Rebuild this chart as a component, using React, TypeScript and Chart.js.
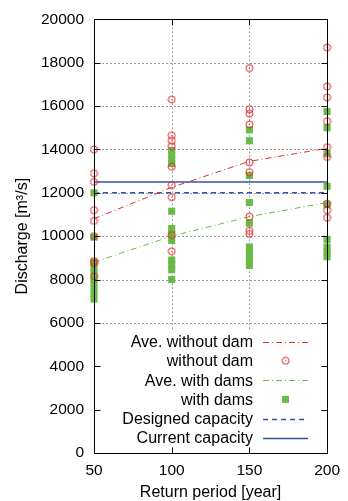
import React, { useEffect, useRef } from 'react';
import { Chart, registerables } from 'chart.js';

Chart.register(...registerables);

// ---- data ----
const returnPeriods = [50, 100, 150, 200];
const withoutDam50 = [14000, 12900, 12500, 11200, 10700, 10000, 8850, 8750, 8150];
const withoutDam100 = [16300, 14650, 14400, 14150, 13200, 12350, 11800, 10050, 9300];
const withoutDam150 = [17750, 15850, 15650, 15150, 13400, 12950, 10900, 10250, 10100];
const withoutDam200 = [18700, 16900, 16400, 15300, 14100, 13650, 11500, 11200, 10850];
const withDams50 = [12000, 9950, 8800, 8550, 8300, 8000, 7700, 7400, 7100];
const withDams100 = [13950, 13750, 13550, 13350, 11150, 10350, 10100, 9800, 8900, 8700, 8450, 8000];
const withDams150 = [14900, 14400, 12800, 11550, 10600, 9500, 9200, 8950, 8650];
const withDams200 = [15750, 15000, 13800, 12300, 11450, 9850, 9500, 9250, 9050];
const aveWithoutDam = [10800, 12250, 13450, 14050];
const aveWithDams = [8800, 10000, 10900, 11550];
const designedCapacity = 12000;
const currentCapacity = 12500;
const legendLabels = ['Ave. without dam', 'without dam', 'Ave. with dams', 'with dams', 'Designed capacity', 'Current capacity'];
const xTitle = 'Return period [year]';
const yTitle = 'Discharge [m\u00B3/s]';

const RED = '#e5282a';
const GREEN = '#68bb44';
const BLUE = '#2f4fb5';
const FONT = '"Liberation Sans", Arial, sans-serif';

function columnPoints(cols: number[][]) {
  const pts: { x: number; y: number }[] = [];
  cols.forEach((vals, i) => vals.forEach((v) => pts.push({ x: returnPeriods[i], y: v })));
  return pts;
}

function makeCircleStyle(): HTMLCanvasElement {
  const c = document.createElement('canvas');
  c.width = 9;
  c.height = 9;
  const g = c.getContext('2d')!;
  g.strokeStyle = RED;
  g.lineWidth = 1;
  g.beginPath();
  g.arc(4.5, 4.5, 3.5, 0, Math.PI * 2);
  g.stroke();
  g.fillStyle = RED;
  g.fillRect(4, 4, 1, 1);
  return c;
}

export default function App() {
  const ref = useRef<HTMLCanvasElement | null>(null);

  useEffect(() => {
    if (!ref.current) return;
    const circle = makeCircleStyle();

    const frame = {
      id: 'gnuplotFrame',
      beforeDatasetsDraw(chart: any) {
        const { ctx, chartArea: a, scales } = chart;
        const x = scales.x;
        const y = scales.y;
        ctx.save();
        ctx.strokeStyle = '#9a9a9a';
        ctx.lineWidth = 1;
        ctx.setLineDash([2, 2]);
        y.ticks.forEach((t: any) => {
          if (t.value <= y.min || t.value >= y.max) return;
          const py = Math.round(y.getPixelForValue(t.value)) + 0.5;
          ctx.beginPath();
          ctx.moveTo(a.left, py);
          ctx.lineTo(a.right, py);
          ctx.stroke();
        });
        x.ticks.forEach((t: any) => {
          if (t.value <= x.min || t.value >= x.max) return;
          const px = Math.round(x.getPixelForValue(t.value)) + 0.5;
          ctx.beginPath();
          ctx.moveTo(px, a.top);
          ctx.lineTo(px, a.bottom);
          ctx.stroke();
        });
        ctx.restore();
      },
      afterDatasetsDraw(chart: any) {
        const { ctx, chartArea: a, scales } = chart;
        const x = scales.x;
        const y = scales.y;
        ctx.save();
        // legend
        const step = 19.3;
        const rows = legendLabels.map((_, i) => a.bottom - 15 - (legendLabels.length - 1 - i) * step);
        ctx.fillStyle = '#ffffff';
        ctx.fillRect(a.left + 1, rows[0] - 11, a.right - a.left - 2, a.bottom - 1 - (rows[0] - 11));
        const textRight = a.right - 74;
        const s0 = a.right - 64;
        const s1 = a.right - 19;
        ctx.font = `16px ${FONT}`;
        ctx.textAlign = 'right';
        ctx.textBaseline = 'middle';
        chart.data.datasets.forEach((ds: any, i: number) => {
          const ry = rows[i];
          ctx.fillStyle = '#000';
          ctx.fillText(legendLabels[i], textRight, ry + 1);
          if (ds.showLine) {
            ctx.strokeStyle = ds.borderColor;
            ctx.lineWidth = ds.borderWidth;
            ctx.setLineDash(ds.borderDash || []);
            ctx.beginPath();
            ctx.moveTo(s0, Math.round(ry) + 0.5);
            ctx.lineTo(s1, Math.round(ry) + 0.5);
            ctx.stroke();
            ctx.setLineDash([]);
          } else if (ds.pointStyle === 'rect') {
            ctx.fillStyle = ds.backgroundColor;
            ctx.fillRect((s0 + s1) / 2 - 3.5, ry - 3.5, 7, 7);
          } else {
            ctx.drawImage(circle, (s0 + s1) / 2 - 4.5, ry - 4.5);
          }
        });
        // border
        ctx.strokeStyle = '#000';
        ctx.lineWidth = 1;
        ctx.setLineDash([]);
        const L = Math.round(a.left) + 0.5;
        const R = Math.round(a.right) + 0.5;
        const T = Math.round(a.top) + 0.5;
        const B = Math.round(a.bottom) + 0.5;
        ctx.strokeRect(L, T, R - L, B - T);
        // inward tick marks
        ctx.beginPath();
        y.ticks.forEach((t: any) => {
          const py = Math.round(y.getPixelForValue(t.value)) + 0.5;
          ctx.moveTo(L, py);
          ctx.lineTo(L + 6, py);
          ctx.moveTo(R, py);
          ctx.lineTo(R - 6, py);
        });
        x.ticks.forEach((t: any) => {
          const px = Math.round(x.getPixelForValue(t.value)) + 0.5;
          ctx.moveTo(px, T);
          ctx.lineTo(px, T + 6);
          ctx.moveTo(px, B);
          ctx.lineTo(px, B - 6);
        });
        ctx.stroke();
        ctx.restore();
      },
    };

    const chart = new Chart(ref.current, {
      type: 'scatter',
      data: {
        datasets: [
          {
            label: legendLabels[0],
            data: returnPeriods.map((p, i) => ({ x: p, y: aveWithoutDam[i] })),
            showLine: true,
            borderColor: RED,
            borderWidth: 1,
            borderDash: [6, 3, 1, 3],
            pointRadius: 0,
            clip: false,
          },
          {
            label: legendLabels[1],
            data: columnPoints([withoutDam50, withoutDam100, withoutDam150, withoutDam200]),
            pointStyle: circle as any,
            pointRadius: 4,
            clip: false,
          },
          {
            label: legendLabels[2],
            data: returnPeriods.map((p, i) => ({ x: p, y: aveWithDams[i] })),
            showLine: true,
            borderColor: GREEN,
            borderWidth: 1,
            borderDash: [6, 3, 1, 3],
            pointRadius: 0,
            clip: false,
          },
          {
            label: legendLabels[3],
            data: columnPoints([withDams50, withDams100, withDams150, withDams200]),
            pointStyle: 'rect',
            pointRadius: 5,
            backgroundColor: GREEN,
            borderWidth: 0,
            clip: false,
          },
          {
            label: legendLabels[4],
            data: [
              { x: returnPeriods[0], y: designedCapacity },
              { x: returnPeriods[returnPeriods.length - 1], y: designedCapacity },
            ],
            showLine: true,
            borderColor: BLUE,
            borderWidth: 1.5,
            borderDash: [5, 4],
            pointRadius: 0,
            clip: false,
          },
          {
            label: legendLabels[5],
            data: [
              { x: returnPeriods[0], y: currentCapacity },
              { x: returnPeriods[returnPeriods.length - 1], y: currentCapacity },
            ],
            showLine: true,
            borderColor: '#3553a8',
            borderWidth: 1.6,
            pointRadius: 0,
            clip: false,
          },
        ],
      },
      options: {
        responsive: false,
        animation: false,
        events: [],
        layout: { padding: { left: 0, right: 13, top: 19, bottom: 0 } },
        plugins: { legend: { display: false }, tooltip: { enabled: false } },
        scales: {
          x: {
            type: 'linear',
            min: 50,
            max: 200,
            grid: { display: false, drawTicks: false },
            border: { display: false },
            ticks: {
              stepSize: 50,
              padding: 8,
              maxRotation: 0,
              color: '#000',
              font: { family: FONT, size: 15.5 },
              callback: (v: any) => String(v),
            },
            title: { display: true, text: xTitle, color: '#000', padding: { top: 0, bottom: 0 }, font: { family: FONT, size: 16, lineHeight: 1 } },
            afterFit(s: any) {
              s.height = 48;
            },
          },
          y: {
            type: 'linear',
            min: 0,
            max: 20000,
            grid: { display: false, drawTicks: false },
            border: { display: false },
            ticks: {
              stepSize: 2000,
              padding: 10,
              color: '#000',
              font: { family: FONT, size: 15.5 },
              callback: (v: any) => String(v),
            },
            title: { display: true, text: yTitle, color: '#000', padding: { top: 13, bottom: 0 }, font: { family: FONT, size: 16 } },
            afterFit(s: any) {
              s.width = 94;
            },
          },
        },
      },
      plugins: [frame],
    });
    return () => chart.destroy();
  }, []);

  return (
    <div style={{ position: 'absolute', left: 0, top: 0, width: 348, height: 501, background: '#fff' }}>
      <canvas ref={ref} width={348} height={501} style={{ display: 'block' }} />
    </div>
  );
}
